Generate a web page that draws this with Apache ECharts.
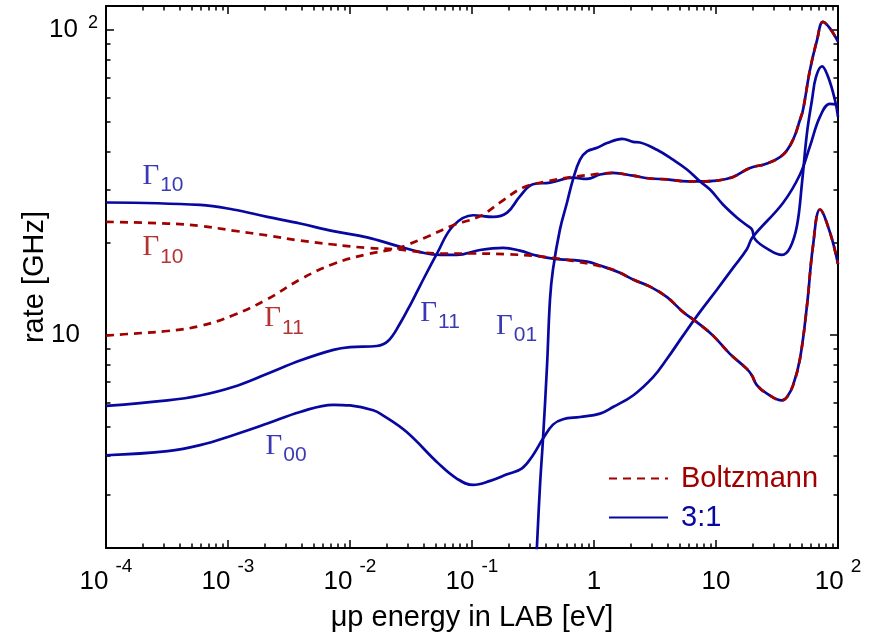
<!DOCTYPE html>
<html>
<head>
<meta charset="utf-8">
<title>rate vs energy</title>
<script src="https://cdn.jsdelivr.net/npm/echarts@6/dist/echarts.min.js"></script>
<style>
  html, body { margin: 0; padding: 0; background: #fff; }
  #chart { width: 879px; height: 634px; }
</style>
</head>
<body>
<div id="chart"></div>
<script>
// [energy eV, rate GHz]
const gamma10Ratio = [
  [1e-4, 27.2], [5.9e-4, 26.7], [1.1e-3, 25.8], [2.1e-3, 24.4], [3.9e-3, 23.2],
  [7.3e-3, 21.9], [0.0138, 20.9], [0.0243, 19.6], [0.0375, 18.7], [0.055, 18.3],
  [0.075, 18.3], [0.116, 19.0], [0.18, 19.3], [0.247, 18.9], [0.34, 18.2],
  [0.46, 17.8], [0.88, 17.4], [1.12, 16.9], [1.63, 16.0], [2.09, 15.2],
  [2.88, 14.4], [3.97, 13.3], [5.37, 11.9], [7.0, 11.0], [9.45, 9.95],
  [13.0, 8.67], [17.9, 7.74], [19.7, 7.36], [21.7, 6.83], [26.2, 6.42],
  [34.7, 6.10], [38.2, 6.26], [42.8, 6.83], [48.8, 8.35], [55.7, 12.5],
  [62.4, 19.6], [71.2, 25.8], [85.9, 21.7], [100, 17.1]
];
const gamma10Boltz = [
  [1e-4, 23.5], [3.2e-4, 23.2], [5.9e-4, 22.8], [1.1e-3, 22.0], [2.1e-3, 21.2],
  [3.9e-3, 20.4], [7.3e-3, 19.8], [0.0138, 19.3], [0.0243, 19.1], [0.03, 18.9],
  [0.055, 18.5], [0.10, 18.5], [0.19, 18.4], [0.36, 18.1], [0.67, 17.5],
  [1.28, 16.6], [1.63, 16.0], [2.09, 15.2], [2.88, 14.4], [3.97, 13.3],
  [5.37, 11.9], [7.0, 11.0], [9.45, 9.95], [13.0, 8.67], [17.9, 7.74],
  [19.7, 7.36], [21.7, 6.83], [26.2, 6.42], [34.7, 6.10], [38.2, 6.26],
  [42.8, 6.83], [48.8, 8.35], [55.7, 12.5], [62.4, 19.6], [71.2, 25.8],
  [85.9, 21.7], [100, 17.1]
];
const gamma11Boltz = [
  [1e-4, 9.95], [1.66e-4, 10.1], [3.2e-4, 10.3], [5.9e-4, 10.7], [1.1e-3, 11.6],
  [2.1e-3, 13.1], [3.9e-3, 15.2], [7.3e-3, 17.1], [0.0138, 18.4], [0.0243, 19.2],
  [0.029, 19.7], [0.043, 21.0], [0.07, 22.9], [0.116, 24.5], [0.17, 27.2],
  [0.26, 30.4], [0.41, 31.9], [0.67, 33.0], [0.98, 33.6], [1.43, 34.0],
  [2.09, 33.3], [2.88, 32.6], [3.97, 32.4], [5.8, 31.9], [7.4, 31.9],
  [10.2, 32.1], [13.8, 33.0], [19.0, 35.3], [26.2, 36.5], [35.4, 39.0],
  [42.8, 43.7], [48.8, 50.8], [51.7, 54.8], [58.9, 74.0], [67.3, 92.8],
  [75.3, 106.4], [85.9, 101.3], [100, 91.6]
];
const gamma11Ratio = [
  [1e-4, 5.85], [3.2e-4, 6.10], [5.9e-4, 6.33], [1.1e-3, 6.75], [2.1e-3, 7.46],
  [3.9e-3, 8.24], [7.3e-3, 8.93], [0.01, 9.12], [0.0166, 9.2], [0.0205, 9.55],
  [0.0257, 10.9], [0.032, 12.8], [0.0375, 14.5], [0.052, 18.6], [0.070, 22.8],
  [0.102, 24.7], [0.149, 24.4], [0.194, 25.2], [0.247, 28.5], [0.316, 31.2],
  [0.436, 31.6], [0.673, 32.8], [0.877, 32.5], [1.12, 33.6], [1.43, 34.0],
  [2.09, 33.3], [2.88, 32.6], [3.97, 32.4], [5.8, 31.9], [7.4, 31.9],
  [10.2, 32.1], [13.8, 33.0], [19.0, 35.3], [26.2, 36.5], [35.4, 39.0],
  [42.8, 43.7], [48.8, 50.8], [51.7, 54.8], [58.9, 74.0], [67.3, 92.8],
  [75.3, 106.4], [85.9, 101.3], [100, 91.6]
];
const gamma00Ratio = [
  [1e-4, 4.03], [3.2e-4, 4.16], [5.9e-4, 4.35], [1.1e-3, 4.69], [2.1e-3, 5.12],
  [3.9e-3, 5.59], [7.3e-3, 5.90], [0.01, 5.87], [0.0155, 5.66], [0.0186, 5.45],
  [0.029, 4.81], [0.053, 3.79], [0.075, 3.38], [0.102, 3.22],
  [0.141, 3.32], [0.194, 3.49], [0.257, 3.65], [0.316, 4.03], [0.382, 4.57],
  [0.461, 5.08], [0.557, 5.29], [0.768, 5.38], [1.12, 5.52], [1.43, 5.80],
  [2.09, 6.33], [3.05, 7.27], [3.97, 8.35], [5.37, 9.95], [7.39, 11.9],
  [10.2, 14.1], [13.8, 16.6], [17.9, 19.1], [19.9, 20.9], [35.4, 27.1],
  [48.8, 33.6], [58.9, 41.6], [71.2, 52.0], [85.9, 57.3], [100, 57.0]
];
const gamma01Ratio = [
  [0.338, 1.9], [0.361, 3.21], [0.382, 4.57], [0.412, 7.92], [0.436, 13.1],
  [0.461, 16.4], [0.526, 22.2], [0.601, 27.2], [0.673, 32.4], [0.768, 37.6],
  [0.877, 40.0], [1.06, 41.1], [1.28, 42.6], [1.70, 44.0], [2.09, 43.0],
  [2.38, 42.8], [3.28, 40.5], [4.44, 37.6], [5.78, 34.9], [7.39, 31.9],
  [8.93, 30.0], [11.4, 26.8], [14.8, 24.3], [17.9, 22.9], [19.7, 22.2],
  [20.9, 20.6], [26.2, 19.2], [34.7, 18.3], [40.4, 19.3], [46.1, 22.8],
  [50.7, 31.6], [55.7, 46.0], [61.2, 59.0], [66.1, 70.4], [74.0, 76.1],
  [82.8, 70.4], [94.4, 59.0], [100, 52.0]
];

// curve labels: Γ with subscript, anchored in data units
const curveLabelAt = [[2.93e-4, 33.2], [2.93e-4, 19.4], [2.88e-3, 11.3], [0.0547, 11.8], [0.232, 10.7], [2.99e-3, 4.32]];
const curveLabelSub = ['10', '10', '11', '11', '01', '00'];
const curveLabelKind = ['3:1', 'Boltzmann', 'Boltzmann', '3:1', '3:1', '3:1'];

// tick labels
const xMajors = [1e-4, 1e-3, 1e-2, 1e-1, 1, 10, 100];
const xTickBase = ['10', '10', '10', '10', '1', '10', '10'];
const xTickExp = ['-4', '-3', '-2', '-1', '', '', '2'];
const yMajors = [10, 100];
const yTickBase = ['10', '10'];
const yTickExp = ['', '2'];

const BLUE = '#0808a0';
const RED = '#a00000';
const SANS = 'Liberation Sans, Arial, sans-serif';

var xMinors = [];
for (let n = -4; n < 2; n++) {
  for (let k = 2; k <= 9; k++) xMinors.push(k * Math.pow(10, n));
}
var yMinors = [];
for (let n = 0; n < 2; n++) {
  for (let k = 2; k <= 9; k++) yMinors.push(k * Math.pow(10, n));
}

function xLabel(v) {
  var i = xMajors.findIndex(function (m) { return Math.abs(Math.log10(m) - Math.log10(v)) < 1e-6; });
  if (i < 0) return '';
  return xTickExp[i] ? '{b|' + xTickBase[i] + '}{p|' + xTickExp[i] + '}' : '{b|' + xTickBase[i] + '}';
}
function yLabel(v) {
  var i = yMajors.findIndex(function (m) { return Math.abs(Math.log10(m) - Math.log10(v)) < 1e-6; });
  if (i < 0) return '';
  return yTickExp[i] ? '{b|' + yTickBase[i] + '}{p|' + yTickExp[i] + '}' : '{c|' + yTickBase[i] + '}';
}

var axisLine = { show: true, lineStyle: { color: '#000', width: 2 } };
var majorTick = { show: true, inside: true, length: 8, lineStyle: { color: '#000', width: 1.5 } };
var minorTick = { show: true, inside: true, length: 4.5, lineStyle: { color: '#000', width: 1.5 } };

function xAxisDef(pos, ticks, isMinor, withLabels) {
  return {
    type: 'log', logBase: 10, min: 1e-4, max: 100, position: pos,
    axisLine: isMinor ? { show: false } : axisLine,
    axisTick: Object.assign({ customValues: ticks }, isMinor ? minorTick : majorTick),
    splitLine: { show: false },
    axisLabel: withLabels ? {
      show: true, customValues: xMajors, margin: 9, formatter: xLabel,
      rich: {
        b: { fontFamily: SANS, fontSize: 26, lineHeight: 50, color: '#000' },
        p: { fontFamily: SANS, fontSize: 19, lineHeight: 19, color: '#000', padding: [0, 0, 31, 7] }
      }
    } : { show: false },
    name: withLabels ? 'μp energy in LAB [eV]' : '',
    nameLocation: 'middle', nameGap: 55, nameMoveOverlap: false,
    nameTextStyle: { fontFamily: SANS, fontSize: 29, color: '#000' }
  };
}
function yAxisDef(pos, ticks, isMinor, withLabels) {
  return {
    type: 'log', logBase: 10, min: 2, max: 120, position: pos,
    axisLine: isMinor ? { show: false } : axisLine,
    axisTick: Object.assign({ customValues: ticks }, isMinor ? minorTick : majorTick),
    splitLine: { show: false },
    axisLabel: withLabels ? {
      show: true, customValues: yMajors, margin: 8, formatter: yLabel,
      rich: {
        b: { fontFamily: SANS, fontSize: 26, lineHeight: 26, color: '#000' },
        c: { fontFamily: SANS, fontSize: 26, lineHeight: 26, color: '#000', padding: [0, 18, 0, 0] },
        p: { fontFamily: SANS, fontSize: 18, lineHeight: 18, color: '#000', padding: [0, 0, 15, 10] }
      }
    } : { show: false },
    name: withLabels ? 'rate [GHz]' : '',
    nameLocation: 'middle', nameGap: 57, nameRotate: 90, nameMoveOverlap: false,
    nameTextStyle: { fontFamily: SANS, fontSize: 29, color: '#000' }
  };
}

function curve(name, data, color, dashed) {
  return {
    name: name, type: 'line', data: data,
    xAxisIndex: 0, yAxisIndex: 0,
    showSymbol: false, symbol: 'none',
    smooth: 0.4,
    lineStyle: { color: color, width: 2.7, type: dashed ? [8, 6] : 'solid' },
    itemStyle: { color: color },
    silent: true, animation: false
  };
}

var option = {
  backgroundColor: '#fff',
  animation: false,
  grid: { left: 106, right: 41, top: 6, bottom: 86, containLabel: false, outerBoundsMode: 'none' },
  xAxis: [
    xAxisDef('bottom', xMajors, false, true),
    xAxisDef('bottom', xMinors, true, false),
    xAxisDef('top', xMajors, false, false),
    xAxisDef('top', xMinors, true, false)
  ],
  yAxis: [
    yAxisDef('left', yMajors, false, true),
    yAxisDef('left', yMinors, true, false),
    yAxisDef('right', yMajors, false, false),
    yAxisDef('right', yMinors, true, false)
  ],
  legend: {
    orient: 'vertical', left: 603, top: 459,
    itemWidth: 59, itemHeight: 14, itemGap: 10,
    selectedMode: false,
    itemStyle: { opacity: 0 },
    textStyle: { fontFamily: SANS, fontSize: 29, lineHeight: 28, padding: [0, 0, 0, 8] },
    data: [
      { name: 'Boltzmann', textStyle: { color: RED } },
      { name: '3:1', textStyle: { color: BLUE } }
    ]
  },
  series: [
    curve('3:1', gamma10Ratio, BLUE, false),
    curve('3:1', gamma11Ratio, BLUE, false),
    curve('3:1', gamma00Ratio, BLUE, false),
    curve('3:1', gamma01Ratio, BLUE, false),
    curve('Boltzmann', gamma10Boltz, RED, true),
    curve('Boltzmann', gamma11Boltz, RED, true),
    {
      name: 'labels', type: 'scatter', symbolSize: 0, silent: true,
      xAxisIndex: 0, yAxisIndex: 0, z: 5,
      data: curveLabelAt.map(function (p, i) {
        return {
          value: p,
          label: {
            show: true, position: 'inside',
            color: curveLabelKind[i] === 'Boltzmann' ? RED : BLUE,
            formatter: '{g|Γ}{s|' + curveLabelSub[i] + '}',
            rich: {
              g: { fontFamily: 'Liberation Serif, Times New Roman, serif', fontSize: 29, lineHeight: 29 },
              s: { fontFamily: SANS, fontSize: 21, lineHeight: 21, padding: [19, 0, 0, 1] }
            }
          }
        };
      })
    }
  ]
};

var myChart = echarts.init(document.getElementById('chart'));
myChart.setOption(option);
</script>
</body>
</html>
